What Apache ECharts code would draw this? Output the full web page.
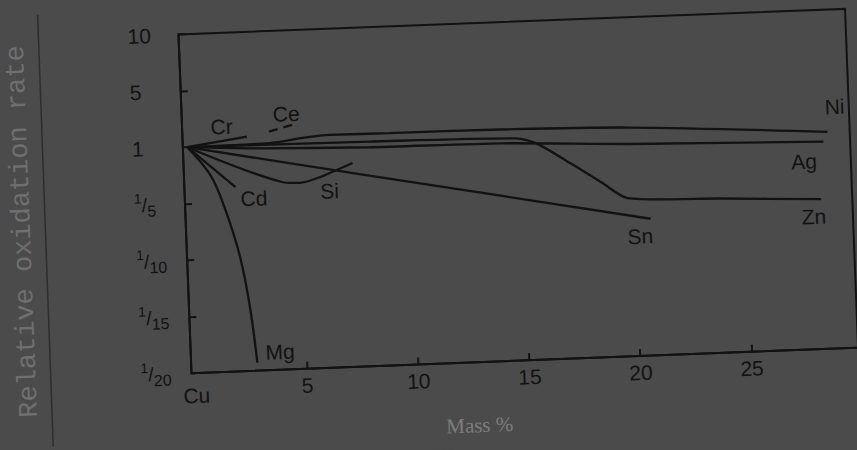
<!DOCTYPE html>
<html>
<head>
<meta charset="utf-8">
<script src="https://cdn.jsdelivr.net/npm/echarts@6/dist/echarts.min.js"></script>
<style>
  html, body { margin: 0; padding: 0; background: #4b4b4b; overflow: hidden; }
  #chart { width: 857px; height: 450px; transform: rotate(-2.2deg); transform-origin: 428.5px 225px; }
</style>
</head>
<body>
<div id="chart"></div>
<script>
// ---- axis ticks ----
const yTickValues = [1/20, 1/15, 1/10, 1/5, 1, 5, 10];
const yTickLabels = ['1/20', '1/15', '1/10', '1/5', '1', '5', '10'];
const xTickValues = [0, 5, 10, 15, 20, 25];
const xTickLabels = ['Cu', '5', '10', '15', '20', '25'];

// ---- series (mass %, relative oxidation rate) ----
const niMass = [0, 3.7, 5.2, 6.4, 9.1, 14.1, 19.9, 28.8];
const niRate = [1, 1.07, 1.34, 1.48, 1.45, 1.40, 1.19, 0.87];

const agMass = [0, 2.8, 8.2, 14.1, 19.9, 28.6];
const agRate = [1, 0.95, 0.90, 0.885, 0.805, 0.733];

const znMass = [0, 8.2, 14.8, 15.7, 17.2, 18.6, 19.7, 23.9, 28.4];
const znRate = [1, 0.98, 0.947, 0.865, 0.564, 0.267, 0.180, 0.173, 0.165];

const snMass = [0, 8.2, 14.0, 20.7];
const snRate = [1, 0.493, 0.193, 0.142];

const siMass = [0, 4.2, 5.0, 5.8, 7.4];
const siRate = [1, 0.456, 0.435, 0.493, 0.687];

const cdMass = [0, 2.1];
const cdRate = [1, 0.41];

const mgMass = [0, 0.62, 1.11, 1.66, 2.18, 2.54, 2.78];
const mgRate = [1, 0.764, 0.522, 0.18, 0.103, 0.0712, 0.0524];

const crMass = [0, 2.7];
const crRate = [1, 1.58];

const ceMass = [3.7, 5.0];
const ceRate = [1.88, 2.39];

// the rate axis is drawn with equally spaced ticks (1/20 ... 10):
// map a rate onto that tick-index scale, linear between neighbouring ticks
function ratePos(v) {
  for (let i = 0; i < yTickValues.length - 1; i++) {
    const a = yTickValues[i], b = yTickValues[i + 1];
    if (v <= b || i === yTickValues.length - 2) return i + (v - a) / (b - a);
  }
}
function pairs(xs, ys) { return xs.map((x, i) => [x, ratePos(ys[i])]); }

const INK = '#121212';
const FONT = '"Liberation Sans", Arial, sans-serif';

function lineSeries(name, xs, ys, opts) {
  return {
    name, type: 'line', data: pairs(xs, ys), symbol: 'none', silent: true,
    smooth: opts.smooth || false,
    lineStyle: { color: INK, width: 2.3, type: opts.dash ? [9, 6] : 'solid' },
    endLabel: {
      show: true, formatter: name, color: INK, fontSize: 21, fontFamily: FONT,
      align: 'center', verticalAlign: 'middle', distance: 0, offset: opts.off
    },
    z: 3
  };
}

const chart = echarts.init(document.getElementById('chart'), null, { renderer: 'svg' });
chart.setOption({
  backgroundColor: '#4b4b4b',
  animation: false,
  grid: { left: 186, top: 25, width: 667, height: 339, show: true, borderColor: INK, borderWidth: 2, outerBoundsMode: 'none' },
  xAxis: {
    type: 'value', min: -0.2, max: 29.8,
    splitLine: { show: false },
    axisLine: { show: true, onZero: false, lineStyle: { color: INK, width: 2 } },
    axisTick: { show: true, inside: true, length: 7, lineStyle: { color: INK, width: 2 }, customValues: xTickValues.slice(1) },
    axisLabel: {
      customValues: xTickValues, margin: 6, color: INK, fontSize: 21, fontFamily: FONT,
      formatter: v => { const i = xTickValues.indexOf(v); return i === 0 ? '{cu|' + xTickLabels[0] + '}' : xTickLabels[i]; },
      rich: { cu: { fontSize: 21, fontFamily: FONT, color: INK, padding: [6, 0, 0, 0] } }
    }
  },
  yAxis: {
    type: 'value', min: 0, max: 6, interval: 1,
    splitLine: { show: false },
    axisLine: { show: true, onZero: false, lineStyle: { color: INK, width: 2 } },
    axisTick: { show: true, inside: true, length: 7, lineStyle: { color: INK, width: 2 } },
    axisLabel: {
      align: 'left', margin: 51, color: INK, fontFamily: FONT,
      formatter: v => {
        const t = yTickLabels[Math.round(v)];
        if (t.indexOf('/') < 0) return '{int|' + t + '}';
        const p = t.split('/');
        return '{num|' + p[0] + '}{sl|/}{den|' + p[1] + '}';
      },
      rich: {
        int: { fontSize: 21, fontFamily: FONT, color: INK, lineHeight: 28 },
        num: { fontSize: 14, fontFamily: FONT, color: INK, verticalAlign: 'top', lineHeight: 28 },
        sl: { fontSize: 19, fontFamily: FONT, color: INK, lineHeight: 28 },
        den: { fontSize: 16, fontFamily: FONT, color: INK, verticalAlign: 'bottom', lineHeight: 28 }
      }
    }
  },
  graphic: [
    { type: 'line', shape: { x1: 46, y1: 0, x2: 45, y2: 432 }, style: { stroke: '#2e2e2e', lineWidth: 1.5 } },
    { type: 'text', x: 23, y: 216, rotation: Math.PI / 2,
      style: { text: 'Relative oxidation rate', font: '27px "Liberation Mono", monospace', fill: '#6f6f6f', textAlign: 'center', textVerticalAlign: 'middle' } },
    { type: 'text', x: 472, y: 427,
      style: { text: 'Mass %', font: '21px "Liberation Serif", serif', fill: '#7d7d7d', textAlign: 'center', textVerticalAlign: 'middle' } }
  ],
  series: [
    lineSeries('Ni', niMass, niRate, { smooth: 0.3, off: [8, -25] }),
    lineSeries('Ag', agMass, agRate, { smooth: 0.2, off: [-20, 19] }),
    lineSeries('Zn', znMass, znRate, { smooth: 0.25, off: [-8, 17] }),
    lineSeries('Sn', snMass, snRate, { off: [-11, 17] }),
    lineSeries('Si', siMass, siRate, { smooth: 0.3, off: [-24, 27] }),
    lineSeries('Cd', cdMass, cdRate, { off: [18, 12] }),
    lineSeries('Mg', mgMass, mgRate, { smooth: 0.3, off: [23, -10] }),
    lineSeries('Cr', crMass, crRate, { off: [-25, -11] }),
    lineSeries('Ce', ceMass, ceRate, { dash: true, off: [-11, -10] })
  ]
});
</script>
</body>
</html>
